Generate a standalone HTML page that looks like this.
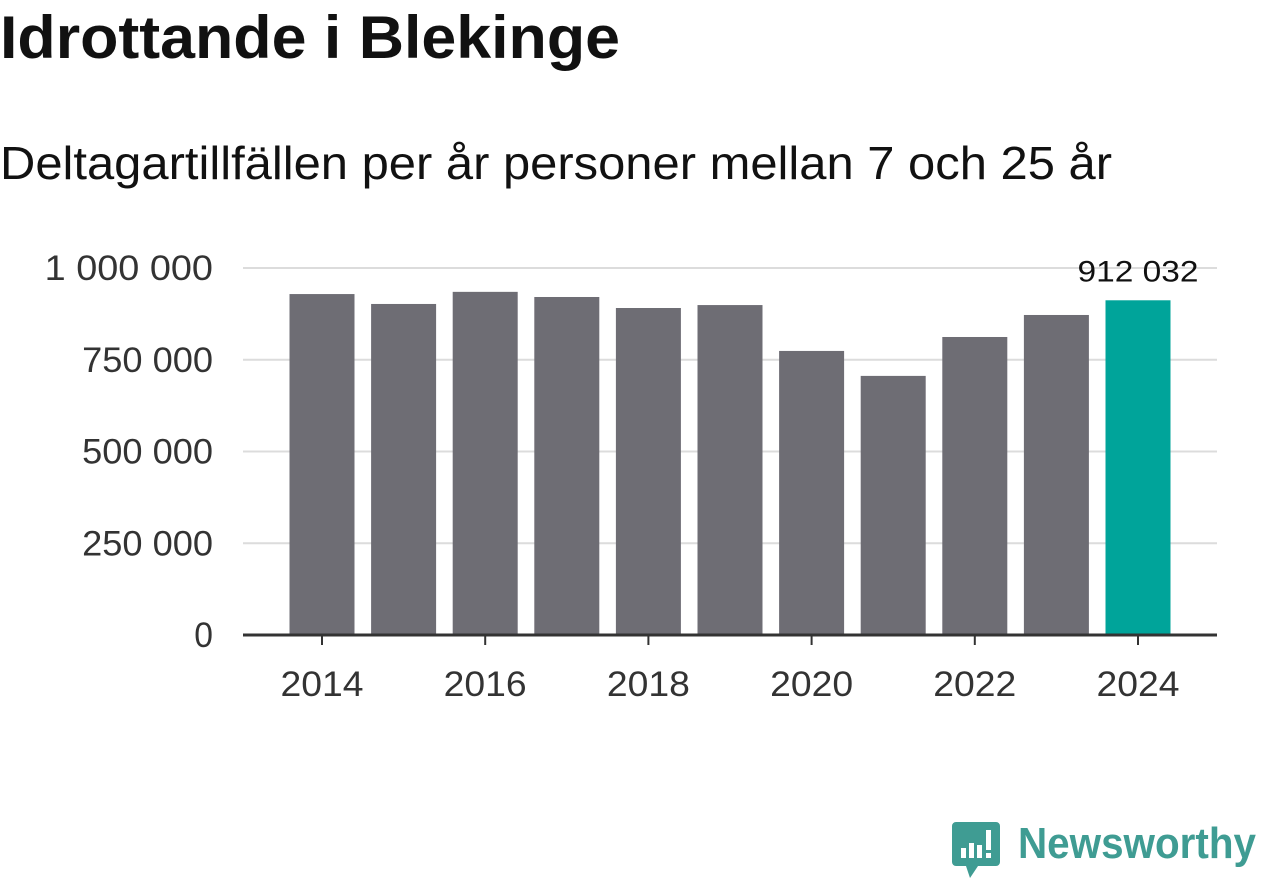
<!DOCTYPE html>
<html><head><meta charset="utf-8"><style>
html,body{margin:0;padding:0;background:#fff;}
svg{display:block;font-family:"Liberation Sans",sans-serif;}
</style></head><body>
<svg id="chart" width="1262" height="879">
<text x="0" y="58" font-size="60" font-weight="bold" fill="#111" textLength="620" lengthAdjust="spacingAndGlyphs">Idrottande i Blekinge</text>
<text x="0" y="179" font-size="46" fill="#111" textLength="1112" lengthAdjust="spacingAndGlyphs">Deltagartillfällen per år personer mellan 7 och 25 år</text>
<g id="grid"></g><g id="bars"></g><g id="axes"></g>
<g>
<path d="M956 822 h40 a4 4 0 0 1 4 4 v36 a4 4 0 0 1 -4 4 h-18 l-8 12 l-4 -12 h-10 a4 4 0 0 1 -4 -4 v-36 a4 4 0 0 1 4 -4z" fill="#3f9c93"/>
<rect x="961" y="848" width="5" height="10" fill="#fff"/><rect x="969" y="843" width="5" height="15" fill="#fff"/><rect x="977" y="845" width="5" height="13" fill="#fff"/><rect x="986" y="830" width="5" height="20" fill="#fff"/><rect x="986" y="853" width="5" height="5" fill="#fff"/>
<text x="1018" y="858" font-size="44" font-weight="bold" fill="#3f9c93" textLength="238" lengthAdjust="spacingAndGlyphs">Newsworthy</text>
</g>
</svg>
<script>
const years=[2014,2015,2016,2017,2018,2019,2020,2021,2022,2023,2024];
const values=[929000,902000,935000,921000,891000,899000,774000,706000,812000,872000,912032];
const yTicks=[0,250000,500000,750000,1000000];
const yTickLabels=["0","250 000","500 000","750 000","1 000 000"];
const xTickYears=[2014,2016,2018,2020,2022,2024];
const NS="http://www.w3.org/2000/svg";
const y0=635,pxPer=367/1000000;
const yS=v=>y0-v*pxPer;
const xS=yr=>322+(yr-2014)*81.6;
function mk(t,a,p){const e=document.createElementNS(NS,t);for(const k in a)e.setAttribute(k,a[k]);p.appendChild(e);return e;}
const grid=document.getElementById('grid'),bars=document.getElementById('bars'),axes=document.getElementById('axes');
yTicks.forEach((v,i)=>{
 if(v>0){const l=mk('line',{x1:243,x2:1217,y1:yS(v),y2:yS(v),stroke:'#dcdcdc','stroke-width':2},grid);
 
 }
 const t=mk('text',{x:213,y:yS(v)+12,'font-size':35,fill:'#333','text-anchor':'end',textLength:yTickLabels[i].length*18.7,lengthAdjust:'spacingAndGlyphs'},axes);
 t.textContent=yTickLabels[i];
 
 
});
years.forEach((yr,i)=>{
 const last=i===years.length-1;
 const r=mk('rect',{x:xS(yr)-32.5,y:yS(values[i]),width:65,height:y0-yS(values[i]),fill:last?'#00a49a':'#6e6d74'},bars);
 
 
 if(last){const t=mk('text',{x:xS(yr),y:yS(values[i])-19,'font-size':30,fill:'#111','text-anchor':'middle',textLength:121,lengthAdjust:'spacingAndGlyphs'},bars);
 t.textContent=values[i].toString().replace(/\B(?=(\d{3})+(?!\d))/g,' ');
 
 }
});
const ax=mk('line',{x1:243,x2:1217,y1:y0,y2:y0,stroke:'#333','stroke-width':3},axes);


xTickYears.forEach(yr=>{
 const tk=mk('line',{x1:xS(yr),x2:xS(yr),y1:y0,y2:y0+10,stroke:'#333','stroke-width':2},axes);
 
 
 const t=mk('text',{x:xS(yr),y:696,'font-size':35,fill:'#333','text-anchor':'middle',textLength:83,lengthAdjust:'spacingAndGlyphs'},axes);
 t.textContent=yr;
 
 
});
</script>
</body></html>
